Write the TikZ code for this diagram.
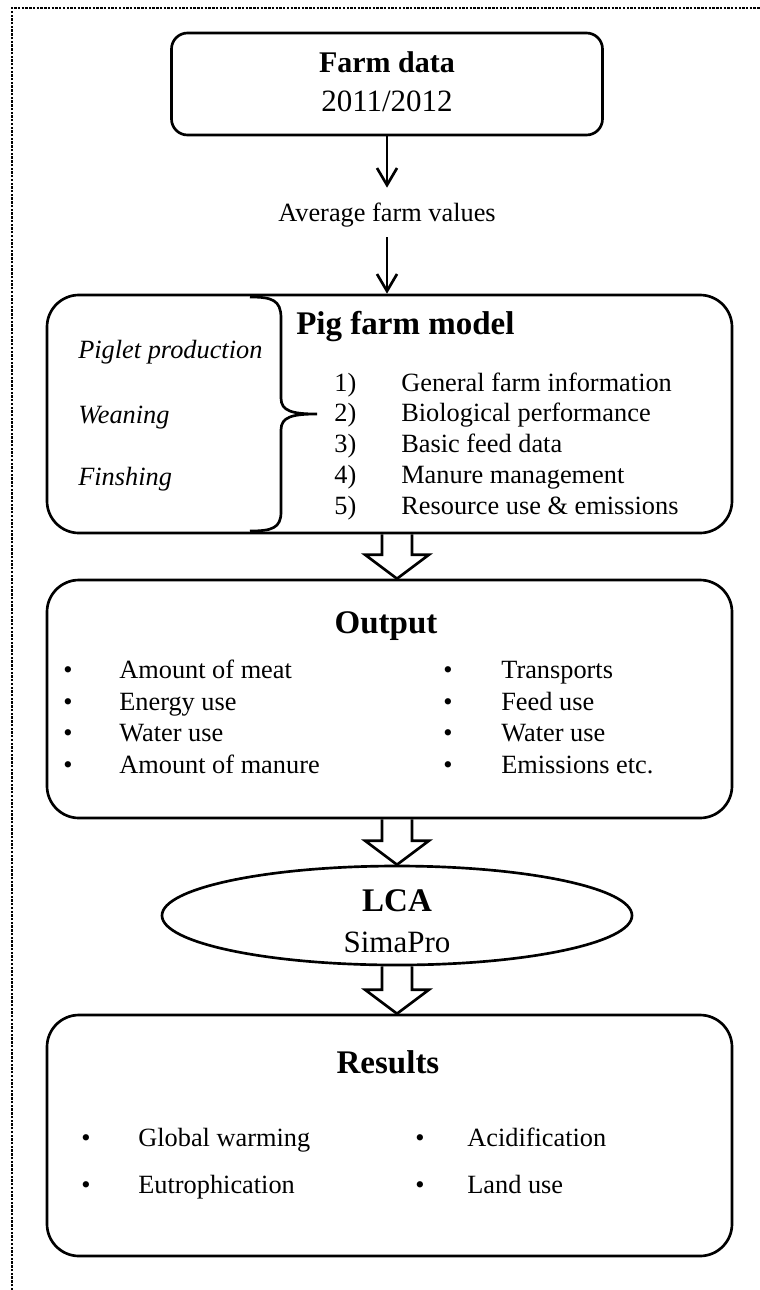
\documentclass[tikz,border=0pt]{standalone}
\usepackage{fontspec}
\setmainfont{Liberation Serif}
\usetikzlibrary{arrows.meta,calc,shapes.geometric}

\newcommand{\titlesize}{\fontsize{24.75}{29}\selectfont\bfseries}
\newcommand{\subsize}{\fontsize{23.25}{28}\selectfont}
\newcommand{\itemsize}{\fontsize{19.75}{23}\selectfont}

\newcommand{\hollowarrow}[2]{%
  \draw[hollow] let \p1=(#1), \p2=(#2) in
    (\x1-11.25pt,\y1) -- (\x1-11.25pt,\y2+18pt) -- (\x1-24pt,\y2+18pt)
    -- (\x2,\y2) -- (\x1+24pt,\y2+18pt) -- (\x1+11.25pt,\y2+18pt) -- (\x1+11.25pt,\y1);}

\begin{document}
\begin{tikzpicture}[x=0.75pt, y=-0.75pt,
                    line width=2pt,
                    >={Straight Barb[length=12.75pt,width=15pt]}]
    \tikzstyle{box}=[draw, rectangle, rounded corners=24pt, minimum width=513.75pt, minimum height=178.5pt, inner sep=0pt]
    \tikzstyle{txt}=[inner sep=0pt, text height=13pt, text depth=0pt, font=\itemsize]
    \tikzstyle{heading}=[txt, text height=16.5pt, font=\titlesize]
    \tikzstyle{subhead}=[txt, text height=15.5pt, font=\subsize]
    \tikzstyle{entry}=[txt, anchor=west]
    \tikzstyle{phase}=[entry, font=\itemsize\itshape]
    \tikzstyle{bul}=[txt]
    \tikzstyle{feed}=[->]
    \tikzstyle{hollow}=[line join=miter]
    \tikzstyle{border}=[line width=2.2pt, dash pattern=on 1.8pt off 1pt]

    \useasboundingbox (0,0) rectangle (760,1290);
    \draw[border] (12,1290) -- (12,8) -- (760,8);

    \node[box, rounded corners=12pt, minimum width=323.25pt, minimum height=76.5pt] (farm) at (387,84) {};
    \node[heading, font=\fontsize{22.5}{27}\selectfont\bfseries] (farmhead) at (387,61) {Farm data};
    \node[subhead] (farmyear) at (387,101) {2011/2012};

    \node[txt, minimum height=35.25pt] (avg) at (387,212.5) {Average farm values};

    \node[box] (pig) at (389.5,414) {};
    \node[heading, anchor=west] (pighead) at (295,323) {Pig farm model};
    \draw (250,297) .. controls (272,297) and (281,300) .. (281,318) -- (281,398)
          .. controls (281,411) and (292,414) .. (317,414)
          .. controls (292,414) and (281,417) .. (281,430) -- (281,512)
          .. controls (281,528) and (272,531) .. (250,531);
    \node[phase] (piglet) at (77,350) {Piglet production};
    \node[phase] (wean) at (77,415) {Weaning};
    \node[phase] (finish) at (77,477) {Finshing};
    \node[entry] (n1) at (333,383) {1)};
    \node[entry] (n2) at (333,413) {2)};
    \node[entry] (n3) at (333,444) {3)};
    \node[entry] (n4) at (333,475) {4)};
    \node[entry] (n5) at (333,506) {5)};
    \node[entry] (s1) at (400,383) {General farm information};
    \node[entry] (s2) at (400,413) {Biological performance};
    \node[entry] (s3) at (400,444) {Basic feed data};
    \node[entry] (s4) at (400,475) {Manure management};
    \node[entry] (s5) at (400,506) {Resource use \& emissions};

    \node[box] (out) at (389.5,699) {};
    \node[heading] (outhead) at (386,622) {Output};
    \node[bul] (ob1) at (68,670) {•};
    \node[bul] (ob2) at (68,702) {•};
    \node[bul] (ob3) at (68,733) {•};
    \node[bul] (ob4) at (68,765) {•};
    \node[entry] (o1) at (118,670) {Amount of meat};
    \node[entry] (o2) at (118,702) {Energy use};
    \node[entry] (o3) at (118,733) {Water use};
    \node[entry] (o4) at (118,765) {Amount of manure};
    \node[bul] (ob5) at (448,670) {•};
    \node[bul] (ob6) at (448,702) {•};
    \node[bul] (ob7) at (448,733) {•};
    \node[bul] (ob8) at (448,765) {•};
    \node[entry] (o5) at (500,670) {Transports};
    \node[entry] (o6) at (500,702) {Feed use};
    \node[entry] (o7) at (500,733) {Water use};
    \node[entry] (o8) at (500,765) {Emissions etc.};

    \node[draw, ellipse, minimum width=352.5pt, minimum height=74.25pt, inner sep=0pt] (lca) at (397,915.5) {};
    \node[heading] (lcahead) at (397,900) {LCA};
    \node[subhead] (lcatool) at (397,942) {SimaPro};

    \node[box, minimum height=180.75pt] (res) at (389.5,1135.5) {};
    \node[heading] (reshead) at (388,1062) {Results};
    \node[bul] (rb1) at (86,1138) {•};
    \node[bul] (rb2) at (86,1185) {•};
    \node[entry] (r1) at (137,1138) {Global warming};
    \node[entry] (r2) at (137,1185) {Eutrophication};
    \node[bul] (rb3) at (420,1138) {•};
    \node[bul] (rb4) at (420,1185) {•};
    \node[entry] (r3) at (466,1138) {Acidification};
    \node[entry] (r4) at (466,1185) {Land use};

    \draw[feed] (farm.south) -- (avg.north);
    \draw[feed] (avg.south) -- (avg.south |- pig.north);
    \hollowarrow{pig.south -| lca.center}{out.north -| lca.center}
    \hollowarrow{out.south -| lca.center}{lca.north}
    \hollowarrow{lca.south}{res.north -| lca.center}

\end{tikzpicture}
\end{document}
